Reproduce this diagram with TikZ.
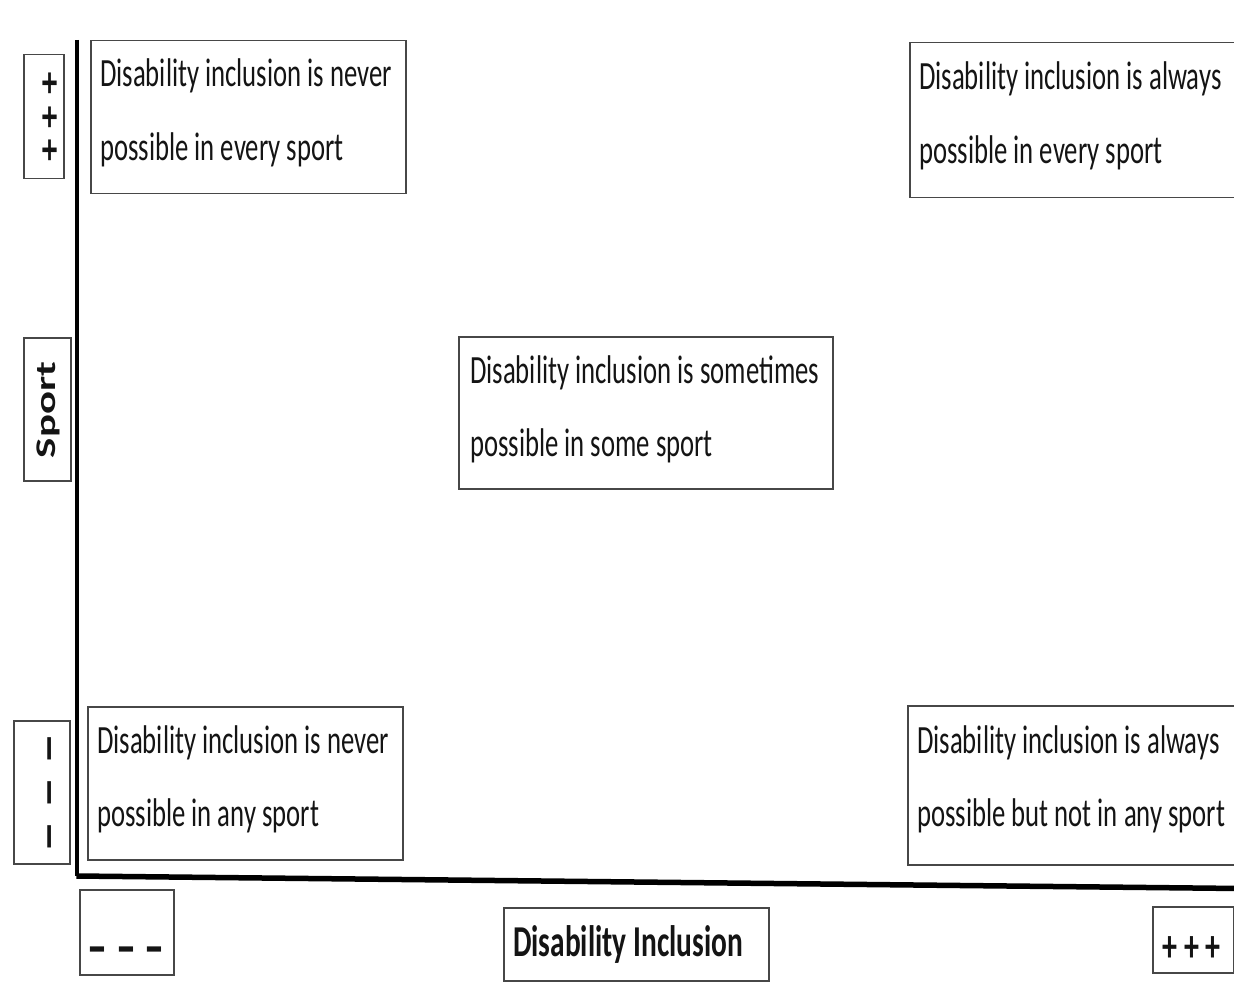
\documentclass[tikz,border=0pt]{standalone}
\usepackage{fontspec}
\setmainfont{Carlito}
\usepackage{graphicx}

% glyphs are set tall and narrow: stretch vertically (or along the text when rotated)
\newcommand{\tallbox}[1]{\scalebox{1}[1.5]{#1}}
\newcommand{\longbox}[1]{\scalebox{1.5}[1]{#1}}
\newcommand{\twolines}[2]{\tallbox{\begin{tabular}[t]{@{}l@{}}#1\\#2\end{tabular}}}

\tikzset{
  frame/.style={draw=black!72, line width=1.5pt, inner sep=0pt, anchor=north west},
  body/.style={inner sep=0pt, anchor=base west, text=black!92,
    font=\fontsize{26.7}{48.7}\selectfont},
  sym/.style={inner sep=0pt, anchor=base, text=black!92,
    font=\fontsize{30}{36}\selectfont\bfseries},
  label/.style={inner sep=0pt, anchor=base, text=black!92,
    font=\fontsize{29.4}{35}\selectfont\bfseries},
}

\begin{document}
\begin{tikzpicture}[x=1pt, y=-1pt]
\useasboundingbox (0,0) rectangle (1234,987);
\clip (0,0) rectangle (1234,987);

% quadrant statement boxes
\node[frame, minimum width=315pt, minimum height=153pt] (tlbox) at (90,40) {};
\node[frame, minimum width=340pt, minimum height=155pt] (trbox) at (909,42) {};
\node[frame, minimum width=374pt, minimum height=152pt] (midbox) at (458,336) {};
\node[frame, minimum width=315pt, minimum height=153pt] (blbox) at (87,706) {};
\node[frame, minimum width=340pt, minimum height=159pt] (brbox) at (907,705) {};

\node[body] (tltext) at (100,87) {\twolines{Disability inclusion is never}{possible in every sport}};
\node[body] (trtext) at (919,90) {\twolines{Disability inclusion is always}{possible in every sport}};
\node[body] (midtext) at (470,383) {\twolines{Disability inclusion is sometimes}{possible in some sport}};
\node[body] (bltext) at (97,753) {\twolines{Disability inclusion is never}{possible in any sport}};
\node[body] (brtext) at (917,753) {\twolines{Disability inclusion is always}{possible but not in any sport}};

% axis scale boxes
\node[frame, minimum width=40pt, minimum height=124pt] (yhighbox) at (23,54) {};
\node[frame, minimum width=47pt, minimum height=143pt] (ylabelbox) at (23,337) {};
\node[frame, minimum width=56pt, minimum height=143pt] (ylowbox) at (13,720) {};
\node[frame, minimum width=94pt, minimum height=85pt] (xlowbox) at (79,889) {};
\node[frame, minimum width=265pt, minimum height=73pt] (xlabelbox) at (503,907) {};
\node[frame, minimum width=81pt, minimum height=66pt] (xhighbox) at (1152,906) {};

\node[sym, rotate=90] (yhigh) at (59,117) {\longbox{+\hspace{7.4pt}+\hspace{7.4pt}+}};
\node[label, rotate=90, font=\fontsize{28.5}{34}\selectfont\bfseries] (ylabel) at (55,410) {\longbox{Sport}};
\node[sym, rotate=90, font=\fontsize{42}{50}\selectfont\bfseries] (ylow) at (61.2,793) {\longbox{–\hspace{8.4pt}–\hspace{8.4pt}–}};
\node[sym, font=\fontsize{40}{48}\selectfont\bfseries] (xlow) at (126,966) {\tallbox{–\hspace{8.6pt}–\hspace{8.6pt}–}};
\node[label] (xlabel) at (628,956) {\tallbox{Disability Inclusion}};
\node[sym] (xhigh) at (1191.5,961) {\tallbox{+ + +}};

% axes
\coordinate (ytop) at (76.5,40);
\coordinate (origin) at (76.5,876);
\coordinate (xend) at (1240,888.5);
\draw[line width=4pt] (ytop) -- (origin);
\draw[line width=5.5pt] (origin) -- (xend);
\end{tikzpicture}
\end{document}
